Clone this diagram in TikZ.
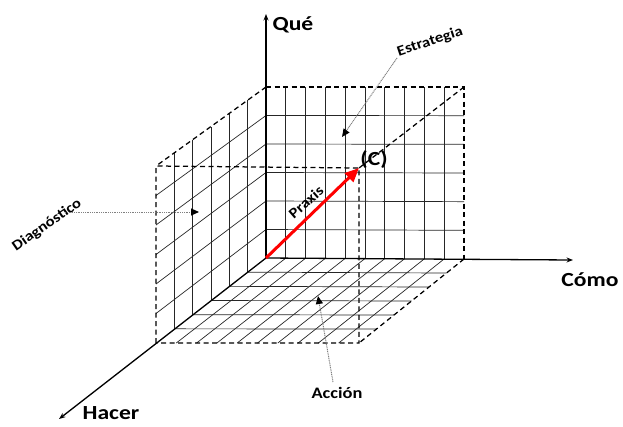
\documentclass[tikz,border=0pt]{standalone}
\usepackage{fontspec}
\setmainfont{Carlito}
\usetikzlibrary{arrows.meta,calc}
\begin{document}
\begin{tikzpicture}[x=1pt,y=-1pt,
  axis/.style={line width=1.3pt, black, -{Stealth[length=6.5pt,width=5pt]}},
  gridline/.style={line width=0.7pt, black!85},
  edge/.style={line width=1.25pt, black, dash pattern=on 5pt off 3.5pt},
  pointer/.style={line width=1pt, black!50, dash pattern=on 1pt off 0.8pt, -{Triangle[length=8pt,width=7pt,color=black]}},
  praxis/.style={red, line width=3pt, -{Triangle[length=14pt,width=12pt]}},
  biglbl/.style={font=\bfseries\fontsize{20}{24}\selectfont, inner sep=0pt},
  smalllbl/.style={font=\bfseries\fontsize{14.5}{17}\selectfont, inner sep=0pt},
  ]
\useasboundingbox (0,0) rectangle (623,426);
% corners
\coordinate (O) at (266,258);
\coordinate (A) at (266,87);
\coordinate (B) at (464,87);
\coordinate (R) at (464,259);
\coordinate (F) at (156,343);
\coordinate (G) at (156,166);
\coordinate (C) at (359,168);
\coordinate (H) at (359,343);
% grids
\foreach \i in {1,...,9} {
  \draw[gridline] ($(O)!\i/10!(R)$) -- ($(A)!\i/10!(B)$);
  \draw[gridline] ($(O)!\i/10!(R)$) -- ($(F)!\i/10!(H)$);
}
\foreach \j in {1,...,5} {
  \draw[gridline] ($(O)!\j/6!(A)$) -- ($(R)!\j/6!(B)$);
  \draw[gridline] ($(O)!\j/6!(A)$) -- ($(F)!\j/6!(G)$);
  \draw[gridline] ($(O)!\j/6!(F)$) -- ($(A)!\j/6!(G)$);
  \draw[gridline] ($(O)!\j/6!(F)$) -- ($(R)!\j/6!(H)$);
}
% dashed cube edges
\draw[edge] (A) -- (B) -- (R);
\draw[edge] (B) -- (C);
\draw[edge] (A) -- (G);
\draw[edge] (F) -- (G) -- (C) -- (H) -- (F);
\draw[edge] (R) -- (H);
% axes
\coordinate (queE) at (266,14);
\coordinate (comoE) at (573,260);
\coordinate (hacerE) at (59,419);
\draw[axis] (O) -- (queE);
\draw[axis] (O) -- (comoE);
\draw[axis] (O) -- (hacerE);
% praxis vector
\draw[praxis] (O) -- (C);
% labels
\node[biglbl] (que) at (293,25) {\scalebox{1.18}[1]{Qué}};
\node[biglbl] (como) at (590,280) {\scalebox{1.18}[1]{Cómo}};
\node[biglbl] (hacer) at (111,413) {\scalebox{1.18}[1]{Hacer}};
\node[biglbl] (clbl) at (374,160) {\scalebox{1.18}[1]{(C)}};
\node[smalllbl, rotate=18.4] (estr) at (430,42) {\scalebox{1.15}[1]{Estrategia}};
\node[smalllbl, rotate=35] (diag) at (47,225) {\scalebox{1.15}[1]{Diagnóstico}};
\node[smalllbl, rotate=41] (prax) at (306,202) {\scalebox{1.15}[1]{Praxis}};
\node[smalllbl, font=\bfseries\fontsize{16}{19}\selectfont] (acc) at (337,393) {\scalebox{1.15}[1]{Acción}};
% pointers
\coordinate (estrS) at (397,58);
\coordinate (estrT) at (342,137);
\coordinate (diagS) at (65,212);
\coordinate (diagT) at (199,212);
\coordinate (accS) at (333,382);
\coordinate (accT) at (318,296);
\draw[pointer] (estrS) -- (estrT);
\draw[pointer] (diagS) -- (diagT);
\draw[pointer] (accS) -- (accT);
\end{tikzpicture}
\end{document}
